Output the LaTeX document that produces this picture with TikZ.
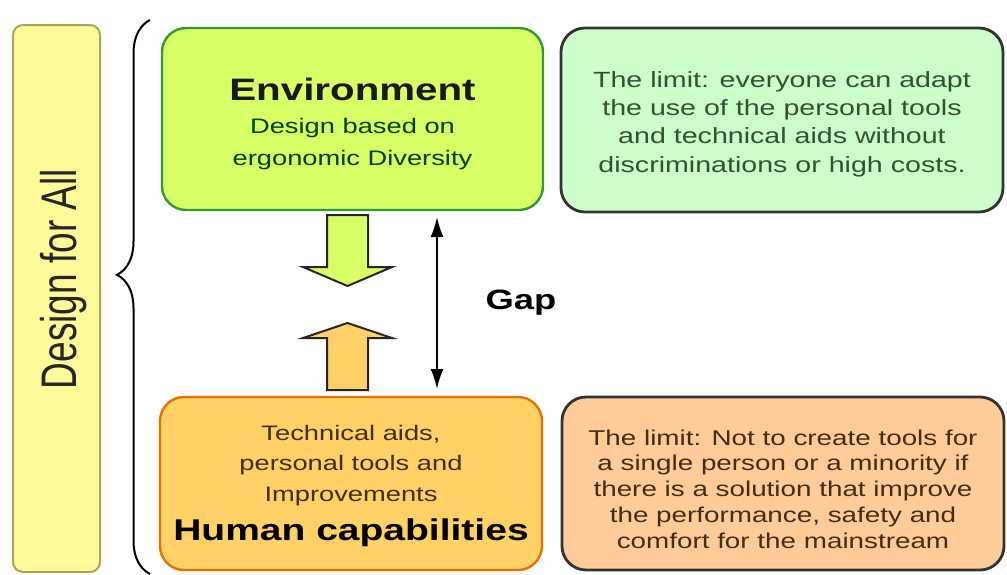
\documentclass[tikz,border=0pt]{standalone}
\usepackage{fontspec}
\setmainfont{Liberation Sans}[FakeStretch=1.3]
\newfontfamily\tallsans{Liberation Sans}[FakeStretch=0.74]
\usetikzlibrary{arrows.meta,decorations.pathreplacing}

\begin{document}
\begin{tikzpicture}[
  x=0.5pt, y=-0.5pt,
  every node/.style={align=center, inner sep=0pt},
  box/.style={draw, rounded corners=12pt, line width=1.2pt},
  limit box/.style={box, draw=black!80, line width=1.4pt,
    minimum width=221pt, minimum height=86.5pt,
    font=\fontsize{10.7}{12.9}\selectfont},
  small text/.style={font=\fontsize{10.5}{16}\selectfont},
  blockarrow/.style={draw=black!85, line width=1pt, line join=miter},
  gaparrow/.style={{Latex[length=10pt,width=6.5pt]}-{Latex[length=10pt,width=6.5pt]}, line width=1pt},
  bracket/.style={decorate, decoration={brace, amplitude=16.5pt, aspect=0.54}, line width=1pt},
]
%-------------------------------------------------------------
\newcommand{\colorisD}{yellow!40!white}
\newcommand{\colorisE}{lime!60!white}
\newcommand{\colorisEE}{green!50!black!80!white}
\newcommand{\colorisH}{orange!60!yellow!60!white}
\newcommand{\colorisHH}{orange!90!black}
\newcommand{\colorisL}{green!20!white}
\newcommand{\colorisP}{orange!40!white}

\useasboundingbox (0,0) rectangle (1007,574);

%============================================================
\node[box, rounded corners=5pt, line width=1pt, draw=lightgray!50!olive, fill=\colorisD,
  minimum width=43.5pt, minimum height=273.5pt] (dfa) at (56.5,298.5) {};
\node[rotate=90, font=\tallsans\fontsize{25}{25}\selectfont, text=black!85] (dfalabel) at (64,279) {Design for All};

\draw[bracket] (150,574) -- (150,20);

%============================================================
\node[box, draw=\colorisEE, fill=\colorisE, minimum width=190.5pt, minimum height=91pt] (env) at (352.5,119) {};
\node[small text, text=green!25!black] (envtext) at (352.5,124)
  {{\fontsize{15.5}{16}\selectfont\bfseries\color{black!90} Environment}\\[0.5pt]
   Design based on\\ergonomic Diversity};

\node[limit box, fill=\colorisL, minimum height=92pt, text=green!15!black!80,
  font=\fontsize{11}{14.2}\selectfont] (envlimit) at (782,120) {};
\node[text=green!15!black!80, font=\fontsize{11}{14.2}\selectfont] (envlimittext) at (782,124)
  {The limit: everyone can adapt\\the use of the personal tools\\
   and technical aids without\\discriminations or high costs.};

%============================================================
\node[box, draw=\colorisHH, fill=\colorisH, minimum width=191pt, minimum height=86.5pt] (hum) at (351,483.5) {};
\node[small text, text=brown!35!black, font=\fontsize{10.5}{15.2}\selectfont] (humtext) at (351,486)
  {Technical aids,\\personal tools and\\Improvements\\[4.5pt]
   {\fontsize{15}{16}\selectfont\bfseries\color{black} Human capabilities}};

\node[limit box, fill=\colorisP] (humlimit) at (783,483.5) {};
\node[text=brown!35!black, font=\fontsize{10.7}{12.9}\selectfont] (humlimittext) at (783,489)
  {The limit: Not to create tools for\\a single person or a minority if\\
   there is a solution that improve\\the performance, safety and\\
   comfort for the mainstream};

%============================================================
\draw[blockarrow, fill=\colorisE] (327,215) -- (368,215) -- (368,267) -- (392,267)
  -- (347.5,286) -- (303,267) -- (327,267) -- cycle;
\draw[blockarrow, fill=\colorisH] (327,390) -- (368,390) -- (368,338) -- (392,338)
  -- (347.5,323) -- (303,338) -- (327,338) -- cycle;

\coordinate (gaptop) at (437,217);
\coordinate (gapbot) at (437,389);
\draw[gaparrow] (gaptop) -- (gapbot);
\node[font=\fontsize{14}{14}\selectfont\bfseries] (gap) at (521,303) {Gap};

\end{tikzpicture}
\end{document}
